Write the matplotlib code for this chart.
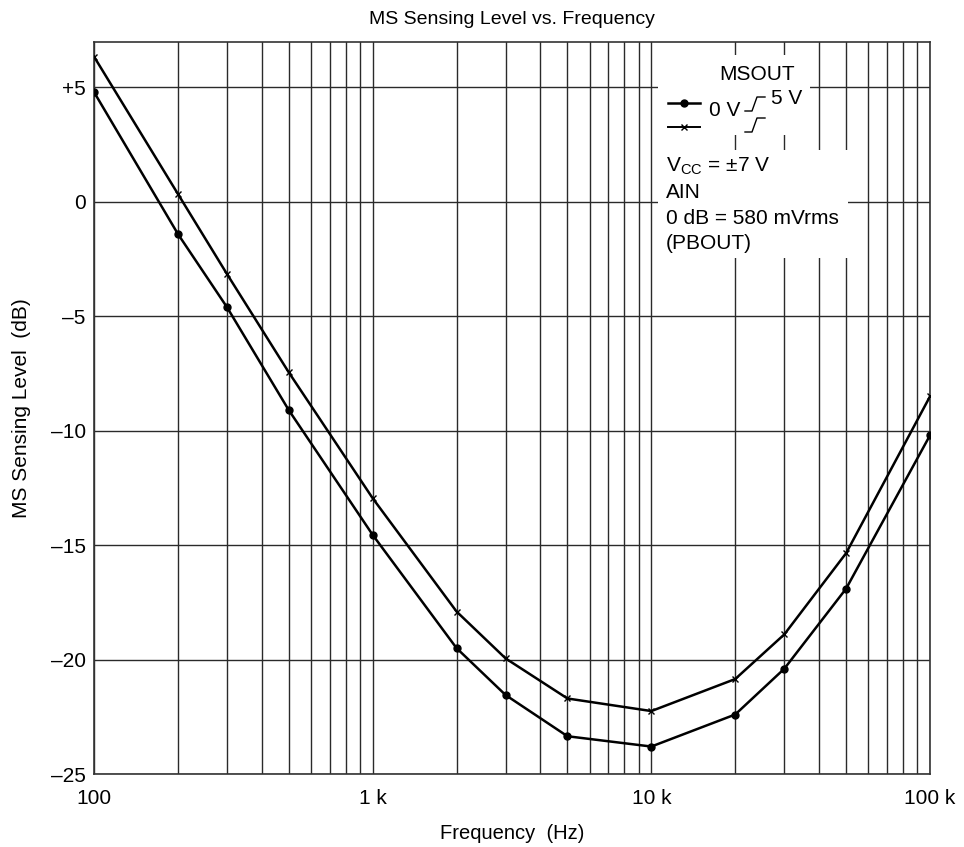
import matplotlib
matplotlib.use("Agg")
import matplotlib.pyplot as plt
from matplotlib.ticker import FixedLocator, NullFormatter, LogLocator
from matplotlib.patches import Rectangle

plt.rcParams['font.family'] = ['Liberation Sans', 'DejaVu Sans']

# data
freq = [100, 200, 300, 500, 1000, 2000, 3000, 5000, 10000, 20000, 30000, 50000, 100000]
level_0v = [4.8, -1.4, -4.6, -9.1, -14.55, -19.5, -21.55, -23.35, -23.8, -22.4, -20.4, -16.9, -10.2]
level_5v = [6.35, 0.35, -3.15, -7.45, -12.95, -17.9, -19.95, -21.7, -22.25, -20.85, -18.9, -15.35, -8.5]

x_ticks = [100, 1000, 10000, 100000]
x_labels = ['100', '1 k', '10 k', '100 k']
y_ticks = [5, 0, -5, -10, -15, -20, -25]
y_labels = ['+5', '0', '\u20135', '\u201310', '\u201315', '\u201320', '\u201325']

W, H = 964, 847
fig = plt.figure(figsize=(W / 100, H / 100), dpi=100)
ax = fig.add_axes([94 / W, 1 - 774 / H, (930 - 94) / W, (774 - 41.7) / H])

ax.set_xscale('log')
ax.set_xlim(100, 100000)
ax.set_ylim(-25, 7)

grid_col = '#2a2a2a'
ax.xaxis.set_major_locator(FixedLocator(x_ticks))
ax.xaxis.set_minor_locator(LogLocator(base=10, subs=range(2, 10)))
ax.xaxis.set_minor_formatter(NullFormatter())
ax.set_xticklabels(x_labels)
ax.set_yticks(y_ticks)
ax.set_yticklabels(y_labels)
ax.grid(which='major', axis='both', color=grid_col, lw=1.0)
ax.grid(which='minor', axis='x', color=grid_col, lw=1.0)
ax.tick_params(which='both', length=0, labelsize=15, colors='black')
ax.tick_params(axis='x', pad=11)
ax.tick_params(axis='y', pad=6)
for s in ax.spines.values():
    s.set_color('#333333')
    s.set_linewidth(1.2)
ax.set_axisbelow(True)

ax.plot(freq, level_0v, color='black', lw=1.8, marker='o', ms=5, zorder=5)
ax.plot(freq, level_5v, color='black', lw=1.8, marker='x', ms=5, mew=1.0, zorder=5)

ax.set_title('MS Sensing Level vs. Frequency', fontsize=14, pad=13)
ax.set_xlabel('Frequency  (Hz)', fontsize=14.5, labelpad=11)
ax.set_ylabel('MS Sensing Level  (dB)', fontsize=15, labelpad=14)

# legend / notes block (positions in axes fraction)
def fx(px):
    return (px - 94) / (930 - 94)

def fy(py):
    return (774 - py) / (774 - 41.7)

tr = ax.transAxes
ax.add_patch(Rectangle((fx(658), fy(135)), fx(810) - fx(658), fy(55) - fy(135),
                       transform=tr, facecolor='white', edgecolor='none', zorder=3))
ax.add_patch(Rectangle((fx(658), fy(258)), fx(848) - fx(658), fy(150) - fy(258),
                       transform=tr, facecolor='white', edgecolor='none', zorder=3))

fs = 15
ax.text(fx(757), fy(75), 'MSOUT', transform=tr, ha='center', va='center', fontsize=fs, zorder=6)
ax.plot([fx(668), fx(700)], [fy(103), fy(103)], transform=tr, color='black', lw=1.8, zorder=6)
ax.plot([fx(684)], [fy(103)], transform=tr, color='black', marker='o', ms=5, zorder=6)
ax.plot([fx(668), fx(700)], [fy(127), fy(127)], transform=tr, color='black', lw=1.4, zorder=6)
ax.plot([fx(684)], [fy(127)], transform=tr, color='black', marker='x', ms=4, mew=1.0, zorder=6)
ax.text(fx(709), fy(110), '0 V', transform=tr, ha='left', va='center', fontsize=fs, zorder=6)
ax.text(fx(771), fy(98), '5 V', transform=tr, ha='left', va='center', fontsize=fs, zorder=6)
# rising-edge symbols
for y0 in (111, 132):
    ax.plot([fx(745), fx(752), fx(757), fx(765)],
            [fy(y0), fy(y0), fy(y0 - 14), fy(y0 - 14)],
            transform=tr, color='black', lw=1.0, zorder=6)

notes = ['V$_{\\mathregular{CC}}$ = \u00b17 V', 'AIN', '0 dB = 580 mVrms', '(PBOUT)']
note_y = [166, 192, 218, 243]
for t, yy in zip(notes, note_y):
    ax.text(fx(666), fy(yy), t, transform=tr, ha='left', va='center', fontsize=fs, zorder=6)

fig.savefig('out.png', dpi=100)
